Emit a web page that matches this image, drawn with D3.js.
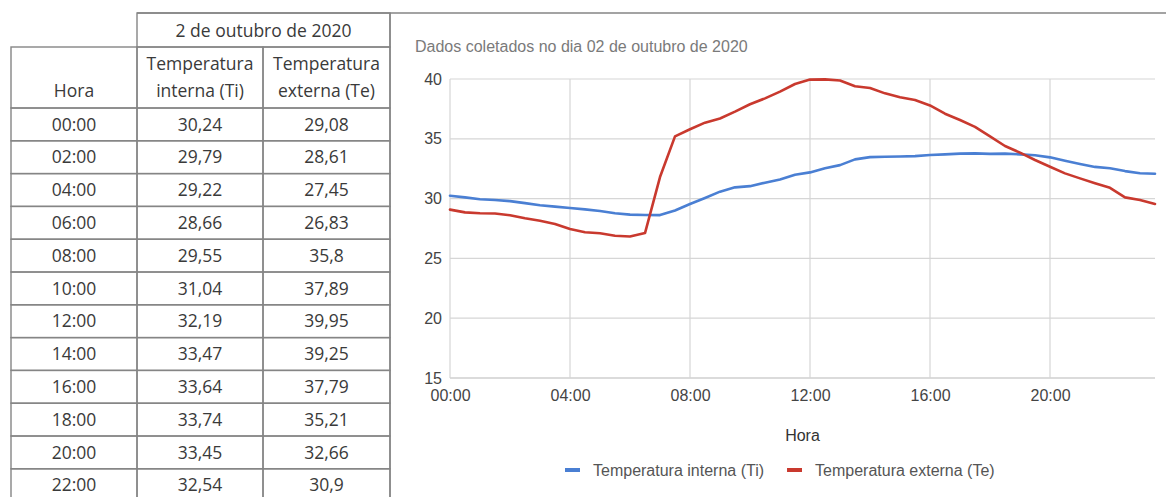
<!DOCTYPE html>
<html>
<head>
<meta charset="utf-8">
<script src="https://cdn.jsdelivr.net/npm/d3@7"></script>
<style>
  body { margin: 0; background: #fff; }
  svg { display: block; }
</style>
</head>
<body>
<svg id="chart" width="1166" height="497"></svg>
<script>
// tabela
const horasTabela = ["00:00", "02:00", "04:00", "06:00", "08:00", "10:00", "12:00", "14:00", "16:00", "18:00", "20:00", "22:00"]
const tabelaTi = ["30,24", "29,79", "29,22", "28,66", "29,55", "31,04", "32,19", "33,47", "33,64", "33,74", "33,45", "32,54"]
const tabelaTe = ["29,08", "28,61", "27,45", "26,83", "35,8", "37,89", "39,95", "39,25", "37,79", "35,21", "32,66", "30,9"]

// grafico (leituras a cada 30 min)
const horasGrafico = ["00:00", "00:30", "01:00", "01:30", "02:00", "02:30", "03:00", "03:30",
  "04:00", "04:30", "05:00", "05:30", "06:00", "06:30", "07:00", "07:30",
  "08:00", "08:30", "09:00", "09:30", "10:00", "10:30", "11:00", "11:30",
  "12:00", "12:30", "13:00", "13:30", "14:00", "14:30", "15:00", "15:30",
  "16:00", "16:30", "17:00", "17:30", "18:00", "18:30", "19:00", "19:30",
  "20:00", "20:30", "21:00", "21:30", "22:00", "22:30", "23:00", "23:30"]
const serieTi = [30.24, 30.1, 29.95, 29.88, 29.79, 29.62, 29.45, 29.33,
  29.22, 29.1, 28.96, 28.78, 28.66, 28.63, 28.62, 29.0,
  29.55, 30.05, 30.58, 30.94, 31.04, 31.33, 31.6, 32.0,
  32.19, 32.53, 32.8, 33.28, 33.47, 33.5, 33.52, 33.55,
  33.64, 33.7, 33.76, 33.78, 33.74, 33.76, 33.7, 33.62,
  33.45, 33.17, 32.9, 32.65, 32.54, 32.3, 32.12, 32.08]
const serieTe = [29.08, 28.85, 28.77, 28.75, 28.61, 28.35, 28.15, 27.88,
  27.45, 27.18, 27.1, 26.9, 26.83, 27.12, 31.8, 35.2,
  35.8, 36.35, 36.7, 37.27, 37.89, 38.38, 38.94, 39.58,
  39.95, 39.97, 39.88, 39.4, 39.25, 38.8, 38.47, 38.24,
  37.79, 37.1, 36.57, 36.0, 35.21, 34.4, 33.84, 33.23,
  32.66, 32.11, 31.69, 31.28, 30.9, 30.1, 29.88, 29.55]
const yTicks = [15, 20, 25, 30, 35, 40]
const nomes = ["Temperatura interna (Ti)", "Temperatura externa (Te)"]
const cores = ["#4a7fd3", "#c9392e"]

const svg = d3.select("#chart")

// ---------- tabela ----------
const colX = [11, 137, 263, 390]
const rowH = 32.8
const headTop = 13, head2 = 47, bodyTop = 108
const lineCol = "#858585"
const tfont = "'Open Sans', sans-serif"

const tab = svg.append("g")
  .attr("font-family", tfont)
  .attr("font-size", 17.5)
  .attr("fill", "#3a3a3a")
  .attr("text-anchor", "middle")

function cell(x0, x1, y0, y1) {
  tab.append("rect")
    .attr("x", x0).attr("y", y0)
    .attr("width", x1 - x0).attr("height", y1 - y0)
    .attr("fill", "none")
    .attr("stroke", lineCol)
    .attr("stroke-width", 1.4)
}
cell(colX[1], colX[3], headTop, head2)
tab.append("text").attr("x", (colX[1] + colX[3]) / 2).attr("y", 37).text("2 de outubro de 2020")

cell(colX[0], colX[1], head2, bodyTop)
cell(colX[1], colX[2], head2, bodyTop)
cell(colX[2], colX[3], head2, bodyTop)
tab.append("text").attr("x", (colX[0] + colX[1]) / 2).attr("y", 97).text("Hora")
tab.append("text").attr("x", (colX[1] + colX[2]) / 2).attr("y", 70).text("Temperatura")
tab.append("text").attr("x", (colX[1] + colX[2]) / 2).attr("y", 97).text("interna (Ti)")
tab.append("text").attr("x", (colX[2] + colX[3]) / 2).attr("y", 70).text("Temperatura")
tab.append("text").attr("x", (colX[2] + colX[3]) / 2).attr("y", 97).text("externa (Te)")

horasTabela.forEach((h, i) => {
  const y0 = bodyTop + i * rowH
  const cols = [h, tabelaTi[i], tabelaTe[i]]
  cols.forEach((v, j) => {
    cell(colX[j], colX[j + 1], y0, y0 + rowH)
    tab.append("text")
      .attr("x", (colX[j] + colX[j + 1]) / 2)
      .attr("y", y0 + 22.5)
      .text(v)
  })
})

// moldura do grafico
svg.append("line").attr("x1", colX[1]).attr("x2", 1166).attr("y1", headTop).attr("y2", headTop)
  .attr("stroke", lineCol).attr("stroke-width", 1.4)
svg.append("line").attr("x1", colX[3]).attr("x2", colX[3]).attr("y1", headTop).attr("y2", 497)
  .attr("stroke", lineCol).attr("stroke-width", 1.4)

// ---------- grafico ----------
const cfont = "'Liberation Sans', Arial, sans-serif"
const fs = 16
const parseHora = d3.timeParse("%H:%M")
const pLeft = 450, pRight = 1155, pTop = 79, pBottom = 378

const x = d3.scaleTime()
  .domain([parseHora("00:00"), parseHora("23:30")])
  .range([pLeft, pRight])
const y = d3.scaleLinear().domain([15, 40]).range([pBottom, pTop])

const g = svg.append("g").attr("font-family", cfont)

g.append("text")
  .attr("x", 415).attr("y", 52)
  .attr("font-size", fs)
  .attr("fill", "#7a7a7a")
  .text("Dados coletados no dia 02 de outubro de 2020")

// grade horizontal
g.append("g")
  .selectAll("line")
  .data(yTicks)
  .join("line")
  .attr("x1", pLeft).attr("x2", pRight)
  .attr("y1", d => y(d)).attr("y2", d => y(d))
  .attr("stroke", d => d === 15 ? "#b8b8b8" : "#d6d6d6")
  .attr("stroke-width", 1.2)

// grade vertical
const xTicks = x.ticks(d3.timeHour.every(4))
g.append("g")
  .selectAll("line")
  .data(xTicks)
  .join("line")
  .attr("x1", d => x(d)).attr("x2", d => x(d))
  .attr("y1", pTop).attr("y2", pBottom)
  .attr("stroke", "#d6d6d6")
  .attr("stroke-width", 1.2)

const yAxis = g.append("g")
  .attr("transform", `translate(${pLeft},0)`)
  .call(d3.axisLeft(y).tickValues(yTicks).tickSize(0).tickPadding(8))
yAxis.select(".domain").remove()
yAxis.selectAll("text")
  .attr("font-family", cfont)
  .attr("font-size", fs)
  .attr("fill", "#444")

const xAxis = g.append("g")
  .attr("transform", `translate(0,${pBottom})`)
  .call(d3.axisBottom(x).tickValues(xTicks).tickSize(0).tickPadding(12)
    .tickFormat(d3.timeFormat("%H:%M")))
xAxis.select(".domain").remove()
xAxis.selectAll("text")
  .attr("font-family", cfont)
  .attr("font-size", fs)
  .attr("fill", "#444")

g.append("text")
  .attr("x", (pLeft + pRight) / 2).attr("y", 441)
  .attr("text-anchor", "middle")
  .attr("font-size", fs)
  .attr("fill", "#333")
  .text("Hora")

const line = d3.line()
  .x((d, i) => x(parseHora(horasGrafico[i])))
  .y(d => y(d))

;[serieTi, serieTe].forEach((s, k) => {
  g.append("path")
    .datum(s)
    .attr("fill", "none")
    .attr("stroke", cores[k])
    .attr("stroke-width", 2.6)
    .attr("stroke-linejoin", "round")
    .attr("stroke-linecap", "round")
    .attr("d", line)
})

// legenda
const leg = g.append("g").attr("font-size", fs).attr("fill", "#555")
let lx = 565
nomes.forEach((n, k) => {
  leg.append("line")
    .attr("x1", lx).attr("x2", lx + 15)
    .attr("y1", 470).attr("y2", 470)
    .attr("stroke", cores[k]).attr("stroke-width", 4)
  const t = leg.append("text")
    .attr("x", lx + 28).attr("y", 475.5)
    .text(n)
  lx = lx + 28 + t.node().getComputedTextLength() + 23
})
</script>
</body>
</html>
